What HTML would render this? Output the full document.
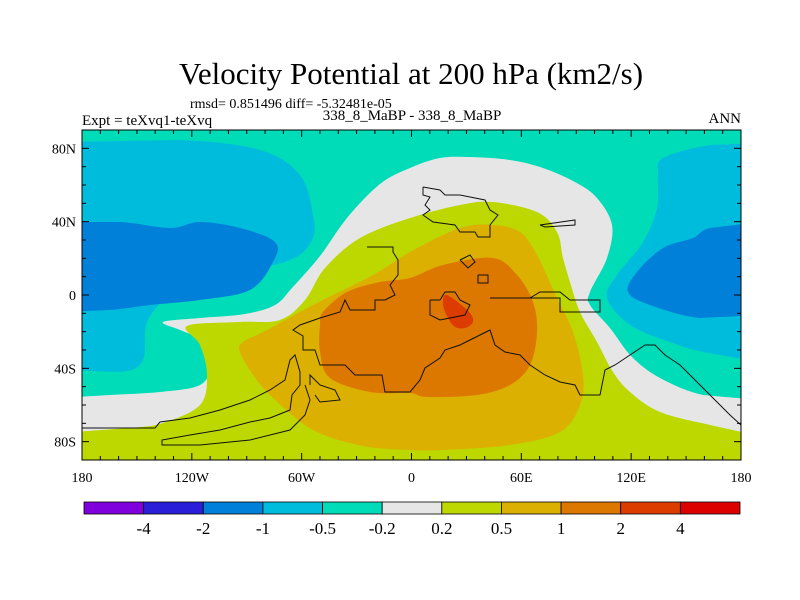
<!DOCTYPE html>
<html><head><meta charset="utf-8"><style>
body{margin:0;background:#fff;width:800px;height:600px;overflow:hidden}
svg{display:block;font-family:"Liberation Serif",serif}
</style></head><body>
<svg id="chart" width="800" height="600" viewBox="0 0 800 600">
<text x="411" y="84" font-size="31" text-anchor="middle">Velocity Potential at 200 hPa (km2/s)</text>
<text x="190" y="108" font-size="14">rmsd= 0.851496 diff= -5.32481e-05</text>
<text x="82" y="125" font-size="15">Expt = teXvq1-teXvq</text>
<text x="412" y="120" font-size="15" text-anchor="middle">338_8_MaBP - 338_8_MaBP</text>
<text x="741" y="123" font-size="15" text-anchor="end">ANN</text>
<defs><clipPath id="pc"><rect x="82" y="130" width="659" height="330"/></clipPath></defs>
<g id="map" clip-path="url(#pc)"></g>
<g id="axes"></g>
<g id="cbar"></g>
</svg>
<script>
const levels=["-4","-2","-1","-0.5","-0.2","0.2","0.5","1","2","4"];
const colors=["#7f00dc","#2a1ed8","#0080d8","#00bcdc","#00dcb8","#e6e6e6","#bcd800","#dcb000","#dc7800","#dc3c00","#dc0000"];
const xTicks=[-180,-120,-60,0,60,120,180];
const xLabels=["180","120W","60W","0","60E","120E","180"];
const yTicks=[80,40,0,-40,-80];
const yLabels=["80N","40N","0","40S","80S"];
const X0=82,X1=741,Y0=130,Y1=460;
const x=lon=>X0+(lon+180)/360*(X1-X0);
const y=lat=>Y0+(90-lat)/180*(Y1-Y0);
const P=(px,py)=>[(px-X0)/(X1-X0)*360-180, 90-(py-Y0)/(Y1-Y0)*180];
const pix=[
 ["turq",4,[[60,110],[760,110],[760,480],[60,480]]],
 ["gray",5,[[60,398],[110,395],[160,392],[200,385],[210,365],[200,340],[180,330],[163,322],[200,318],[245,314],[275,305],[292,288],[320,256],[347,218],[380,184],[410,168],[440,158],[470,157],[510,160],[543,168],[575,182],[597,198],[612,225],[607,258],[590,292],[590,305],[610,328],[632,357],[660,378],[703,395],[760,400],[760,480],[60,480]]],
 ["yellow",6,[[60,433],[130,428],[163,423],[200,405],[207,375],[200,345],[187,326],[240,322],[280,320],[305,300],[325,268],[360,238],[410,218],[460,205],[493,202],[537,212],[557,232],[563,258],[570,282],[580,312],[597,342],[613,372],[630,392],[660,412],[710,425],[760,436],[760,480],[60,480]]],
 ["gold",7,[[243,342],[240,352],[253,375],[273,398],[313,430],[363,446],[410,450],[443,450],[510,445],[560,432],[580,405],[583,375],[573,332],[557,298],[537,255],[520,232],[493,225],[460,228],[410,252],[373,275],[313,305],[267,330]]],
 ["orange",8,[[323,312],[347,292],[380,282],[410,278],[443,265],[493,258],[517,275],[533,302],[537,332],[530,365],[510,385],[477,395],[427,397],[410,393],[370,392],[330,378],[320,352],[320,325]]],
 ["red",9,[[445,295],[455,300],[470,313],[473,322],[465,328],[455,327],[448,318],[443,305]]],
 ["cyan-left",3,[[60,142],[180,140],[260,150],[300,175],[313,215],[312,240],[290,260],[230,275],[180,288],[148,320],[143,360],[120,372],[60,370]]],
 ["blue-left",2,[[60,222],[120,222],[170,228],[200,222],[240,228],[275,242],[273,262],[250,290],[200,300],[150,305],[110,310],[60,312]]],
 ["cyan-right",3,[[663,158],[710,145],[760,143],[760,362],[703,352],[670,342],[630,325],[607,298],[617,275],[643,242],[657,208],[658,175]]],
 ["blue-right",2,[[693,238],[710,228],[760,222],[760,315],[700,318],[650,305],[628,292],[637,272],[663,248]]]
];
const regions=pix.map(r=>({name:r[0],level:r[1],pts:r[2].map(p=>P(p[0],p[1]))}));
const coastPix=[
 [[423,187],[423,195],[430,197],[425,205],[430,210],[423,215],[433,222],[455,225],[460,232],[475,232],[478,237],[490,237],[490,225],[498,215],[490,210],[485,200],[470,197],[460,195],[445,195],[440,190],[423,187]],
 [[540,225],[575,220],[575,225],[545,227],[540,225]],
 [[367,247],[393,247],[393,252],[398,260],[398,275],[390,285],[395,295],[385,300],[375,300],[375,310],[350,310],[345,300],[340,312],[320,318],[300,325],[293,330],[303,336],[303,350],[315,350],[320,365],[345,365],[355,375],[382,375],[385,392],[410,392],[420,380],[425,368],[440,358],[445,350],[460,345],[470,340],[480,335],[490,330],[495,345],[505,352],[520,355],[530,365],[545,375],[560,382],[575,385],[580,395],[600,395],[605,370],[615,365],[630,355]],
 [[430,300],[440,300],[445,292],[455,292],[460,300],[470,305],[465,315],[440,320],[430,315],[430,300]],
 [[490,298],[560,298],[560,312],[600,312],[600,300],[570,300],[560,292],[540,292],[530,298],[490,298]],
 [[630,355],[645,345],[655,345],[665,355],[680,365],[690,375],[700,385],[710,395],[720,405],[730,415],[741,425]],
 [[82,428],[155,428],[160,422],[190,418],[220,410],[250,400],[270,390],[285,380],[290,360],[295,355],[300,372],[300,385],[292,395],[290,410],[270,418],[250,422],[220,430],[190,435],[162,440],[162,445],[200,445],[250,440],[290,430],[305,415],[310,400],[305,385]],
 [[310,385],[310,375],[320,385],[335,390],[340,400],[320,402],[315,395]],
 [[460,260],[470,255],[475,262],[468,268],[460,260]],
 [[478,275],[488,275],[488,283],[478,283],[478,275]]
];
const NS="http://www.w3.org/2000/svg";
const mk=(t,a,parent)=>{const e=document.createElementNS(NS,t);for(const k in a)e.setAttribute(k,a[k]);parent.appendChild(e);return e;};
const outside=p=>p[0]<X0||p[0]>X1||p[1]<Y0||p[1]>Y1;
function smooth(q){
 const n=q.length;const f=v=>v.toFixed(1);let d='M'+f(q[0][0])+' '+f(q[0][1]);
 for(let i=0;i<n;i++){
  const p0=q[(i-1+n)%n],p1=q[i],p2=q[(i+1)%n],p3=q[(i+2)%n];
  if(outside(p1)||outside(p2)){d+=' L'+f(p2[0])+' '+f(p2[1]);continue;}
  const c1=[p1[0]+(p2[0]-p0[0])/6,p1[1]+(p2[1]-p0[1])/6];
  const c2=[p2[0]-(p3[0]-p1[0])/6,p2[1]-(p3[1]-p1[1])/6];
  d+=' C'+f(c1[0])+' '+f(c1[1])+' '+f(c2[0])+' '+f(c2[1])+' '+f(p2[0])+' '+f(p2[1]);
 }
 return d+'Z';
}
const map=document.getElementById('map');
regions.forEach(r=>{
 const q=r.pts.map(p=>[x(p[0]),y(p[1])]);
 const e=mk('path',{d:smooth(q),fill:colors[r.level]},map);
 
 
});
coastPix.forEach(c=>{
 const pts=c.map(p=>P(p[0],p[1]));
 const d=pts.map((p,j)=>(j?'L':'M')+x(p[0]).toFixed(1)+' '+y(p[1]).toFixed(1)).join(' ');
 const e=mk('path',{d:d,fill:'none',stroke:'#111','stroke-width':1},map);
 
 
});
const ax=document.getElementById('axes');
const fr=mk('rect',{x:X0,y:Y0,width:X1-X0,height:Y1-Y0,fill:'none',stroke:'#000','stroke-width':1},ax);


for(let lon=-180;lon<=180;lon+=10){
 const L=lon%60===0?7:4;
 mk('line',{x1:x(lon),x2:x(lon),y1:Y1,y2:Y1-L,stroke:'#000'},ax);
 mk('line',{x1:x(lon),x2:x(lon),y1:Y0,y2:Y0+L,stroke:'#000'},ax);
}
for(let lat=-90;lat<=90;lat+=10){
 const L=lat%40===0?7:4;
 mk('line',{x1:X0,x2:X0+L,y1:y(lat),y2:y(lat),stroke:'#000'},ax);
 mk('line',{x1:X1,x2:X1-L,y1:y(lat),y2:y(lat),stroke:'#000'},ax);
}
xTicks.forEach((v,i)=>{
 const t=mk('text',{x:x(v),y:482,'font-size':14,'text-anchor':'middle'},ax);
 t.textContent=xLabels[i];
 
 
});
yTicks.forEach((v,i)=>{
 const t=mk('text',{x:76,y:y(v)+5,'font-size':14,'text-anchor':'end'},ax);
 t.textContent=yLabels[i];
 
 
});
const cb=document.getElementById('cbar');
const CX0=84,CX1=740,CY=502,CH=12,bw=(CX1-CX0)/colors.length;
colors.forEach((c,i)=>{
 const r=mk('rect',{x:CX0+i*bw,y:CY,width:bw,height:CH,fill:c,stroke:'#000','stroke-width':0.8},cb);
 
 
});
levels.forEach((l,i)=>{
 const t=mk('text',{x:CX0+(i+1)*bw,y:534,'font-size':17,'text-anchor':'middle'},cb);
 t.textContent=l;
 
 
});
</script>
</body></html>
